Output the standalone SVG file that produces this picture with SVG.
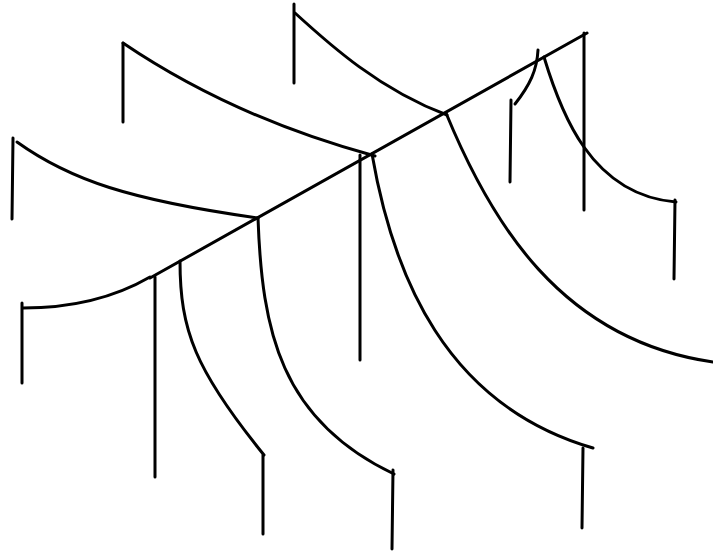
<svg xmlns="http://www.w3.org/2000/svg" width="713" height="552" viewBox="0 0 713 552">
<style>
.s{fill:none;stroke:#000;stroke-width:3;stroke-linecap:round;stroke-linejoin:round}
</style>
<rect width="713" height="552" fill="#fff"/>
<g id="trunk" class="s">
<path d="M150,278 L587,33"/>
<path d="M23,308 C70,308 112,299 150,277"/>
</g>
<g id="upper-branches" class="s">
<path d="M295,13 C330,45 380,90 447,115"/>
<path d="M123,43 C188,87 268,127 375,156"/>
<path d="M17,142 C70,180 130,200 258,218"/>
<path d="M515,104 C530,85 537,70 538,50"/>
<path d="M544,57 C560,110 590,195 676,202"/>
</g>
<g id="lower-branches" class="s">
<path d="M180,261 C180,330 195,370 264,455"/>
<path d="M258,218 C262,330 280,420 394,474"/>
<path d="M372,154 C393,275 445,405 593,448"/>
<path d="M446,113 C490,220 560,340 713,362"/>
</g>
<g id="posts" class="s">
<path d="M294,4 L294,83"/>
<path d="M123,43 L123,122"/>
<path d="M13,138 L12,219"/>
<path d="M22,303 L22,383"/>
<path d="M155,277 L155,477"/>
<path d="M263,455 L263,534"/>
<path d="M393,470 L392,549"/>
<path d="M360,155 L360,360"/>
<path d="M583,448 L582,528"/>
<path d="M511,100 L510,182"/>
<path d="M584,33 L584,210"/>
<path d="M675,200 L674,279"/>
</g>
</svg>
